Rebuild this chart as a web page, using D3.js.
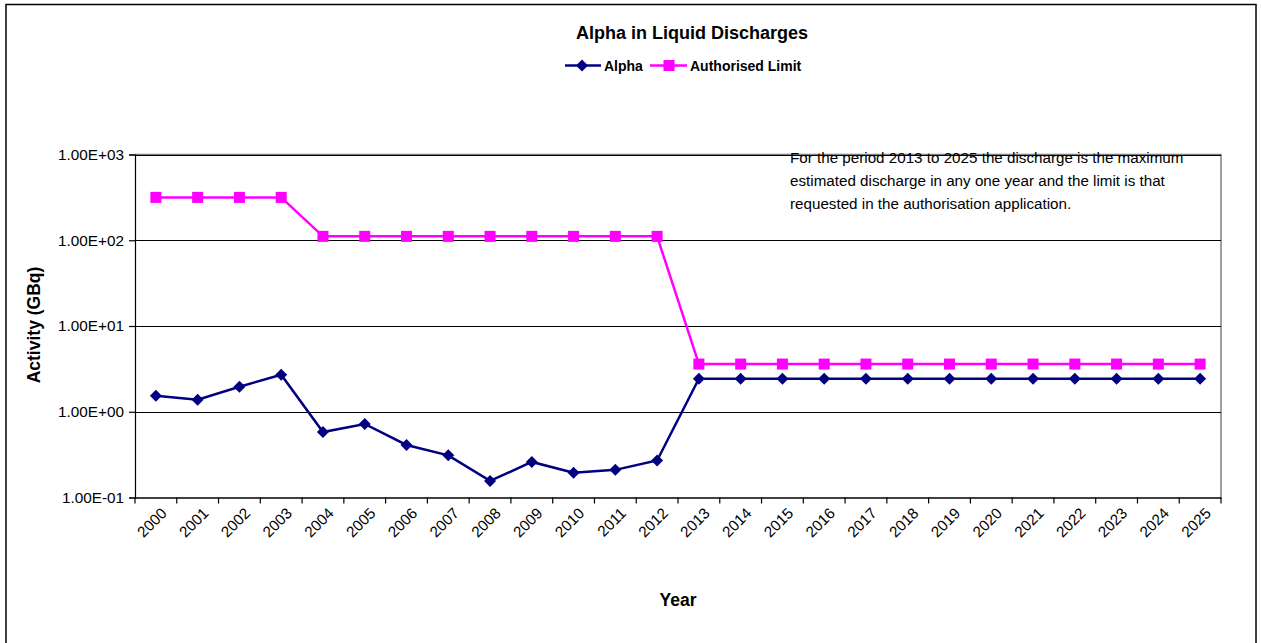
<!DOCTYPE html>
<html><head><meta charset="utf-8">
<script src="https://cdn.jsdelivr.net/npm/d3@7/dist/d3.min.js"></script>
<style>body{margin:0;background:#fff;}svg{display:block;font-family:"Liberation Sans",Arial,sans-serif;}</style>
</head><body>
<svg id="c" width="1261" height="643"></svg>
<script>
const years = ["2000","2001","2002","2003","2004","2005","2006","2007","2008","2009","2010","2011","2012","2013","2014","2015","2016","2017","2018","2019","2020","2021","2022","2023","2024","2025"];
const alpha = [1.54,1.38,1.96,2.7,0.58,0.72,0.41,0.31,0.156,0.26,0.194,0.21,0.27,2.43,2.43,2.43,2.43,2.43,2.43,2.43,2.43,2.43,2.43,2.43,2.43,2.43];
const limit = [316,316,316,316,111,111,111,111,111,111,111,111,111,3.6,3.6,3.6,3.6,3.6,3.6,3.6,3.6,3.6,3.6,3.6,3.6,3.6];
const yTicks = [0.1,1,10,100,1000];
const yTickLabels = ["1.00E-01","1.00E+00","1.00E+01","1.00E+02","1.00E+03"];
const title = "Alpha in Liquid Discharges";
const seriesNames = ["Alpha","Authorised Limit"];
const note = ["For the period 2013 to 2025 the discharge is the maximum","estimated discharge in any one year and the limit is that","requested in the authorisation application."];

const svg = d3.select("#c");
const L=135, R=1221, T=154.5, B=497.5;
const x = d3.scaleBand().domain(years).range([L,R]);
const y = d3.scaleLog().domain([0.1,1000]).range([B,T]);
const cx = d => x(d)+x.bandwidth()/2;
const diamond = d3.symbol(d3.symbolSquare,72)();

// outer frame
svg.append("rect").attr("x",6).attr("y",4.5).attr("width",1250).attr("height",700)
  .attr("fill","none").attr("stroke","#000").attr("stroke-width",1.5);

// title & legend
svg.append("text").attr("x",692).attr("y",39).attr("text-anchor","middle")
  .attr("font-weight","bold").attr("font-size",18).text(title);
const lg = svg.append("g").attr("font-weight","bold").attr("font-size",14);
lg.append("line").attr("x1",565).attr("x2",601).attr("y1",65.5).attr("y2",65.5).attr("stroke","#000080").attr("stroke-width",2.5);
lg.append("path").attr("d",diamond).attr("transform","translate(582,65.5) rotate(45)").attr("fill","#000080");
lg.append("text").attr("x",604).attr("y",70.5).text(seriesNames[0]);
lg.append("line").attr("x1",650).attr("x2",687).attr("y1",65.5).attr("y2",65.5).attr("stroke","#ff00ff").attr("stroke-width",2.5);
lg.append("rect").attr("x",663.5).attr("y",60).attr("width",11).attr("height",11).attr("fill","#ff00ff");
lg.append("text").attr("x",690).attr("y",70.5).text(seriesNames[1]);

// plot border (gray) top/right
svg.append("path").attr("d",`M${L},${T}H${R}V${B}`).attr("fill","none").attr("stroke","#808080").attr("stroke-width",1.5);

// gridlines
svg.append("g").selectAll("line").data(yTicks.slice(1)).join("line")
  .attr("x1",L).attr("x2",R).attr("y1",d=>Math.round(y(d))+0.5).attr("y2",d=>Math.round(y(d))+0.5)
  .attr("stroke","#000").attr("stroke-width",1);

// y axis
const ya = d3.axisLeft(y).tickValues(yTicks).tickFormat((d,i)=>yTickLabels[i]).tickSize(6).tickPadding(5);
const yg = svg.append("g").attr("transform",`translate(${L},0)`).call(ya);
yg.selectAll("text").attr("font-size",15.3).attr("font-family","'Liberation Sans',Arial,sans-serif").attr("fill","#000");
yg.selectAll("line,path").attr("stroke","#000").attr("stroke-width",1.2);

// x axis
const xa = d3.axisBottom(x).tickSize(0).tickFormat("");
const xg = svg.append("g").attr("transform",`translate(0,${B})`).call(xa);
xg.selectAll("path").attr("stroke","#000").attr("stroke-width",1.5);
const bounds = years.map(d=>x(d)).concat([R]);
svg.append("g").selectAll("line").data(bounds).join("line")
  .attr("x1",d=>d).attr("x2",d=>d).attr("y1",B).attr("y2",B+6).attr("stroke","#000").attr("stroke-width",1.2);
svg.append("g").selectAll("text").data(years).join("text")
  .attr("transform",d=>`translate(${cx(d)+8},${B+13}) rotate(-45)`)
  .attr("text-anchor","end").attr("dy","0.35em").attr("font-size",15.3).text(d=>d);

// axis titles
svg.append("text").attr("transform","translate(40,325) rotate(-90)").attr("text-anchor","middle")
  .attr("font-weight","bold").attr("font-size",17.5).text("Activity (GBq)");
svg.append("text").attr("x",678).attr("y",606).attr("text-anchor","middle")
  .attr("font-weight","bold").attr("font-size",17.5).text("Year");

// note
svg.append("g").selectAll("text").data(note).join("text")
  .attr("x",790).attr("y",(d,i)=>163+i*23).attr("font-size",15.2).text(d=>d);

// series
const line = d3.line().x((d,i)=>cx(years[i])).y(d=>y(d));
svg.append("path").datum(limit).attr("d",line).attr("fill","none").attr("stroke","#ff00ff").attr("stroke-width",2.5);
svg.append("g").selectAll("rect").data(limit).join("rect")
  .attr("x",(d,i)=>cx(years[i])-5.5).attr("y",d=>y(d)-5.5).attr("width",11).attr("height",11).attr("fill","#ff00ff");
svg.append("path").datum(alpha).attr("d",line).attr("fill","none").attr("stroke","#000080").attr("stroke-width",2.5);
svg.append("g").selectAll("path").data(alpha).join("path")
  .attr("d",diamond)
  .attr("transform",(d,i)=>`translate(${cx(years[i])},${y(d)}) rotate(45)`).attr("fill","#000080");
</script>
</body></html>
